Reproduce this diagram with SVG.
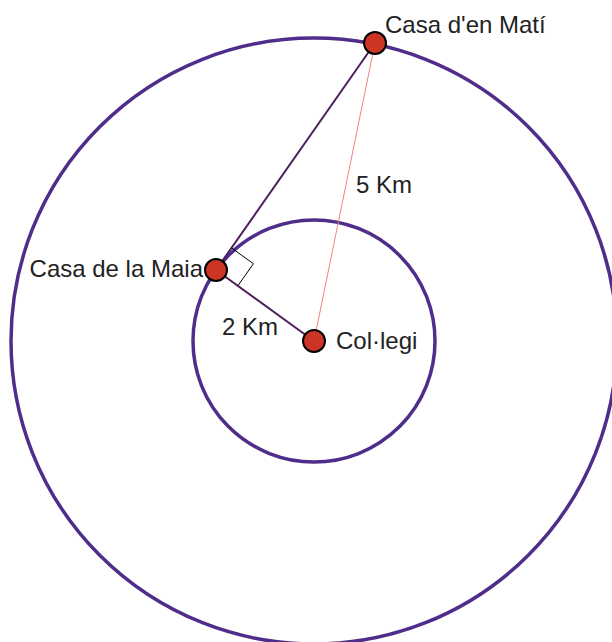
<svg xmlns="http://www.w3.org/2000/svg" width="612" height="642" viewBox="0 0 612 642">
<style>
.ring{fill:none;stroke:#4f2d8a;stroke-width:3.5}
.node{fill:#cc3526;stroke:#000;stroke-width:2}
.lbl{font-family:"Liberation Sans",Arial,sans-serif;font-size:24px;fill:#222}
.seg{stroke:#4d1f5c;stroke-width:2;fill:none}
</style>
<rect width="612" height="642" fill="#fff"/>
<g id="outer-circle"><circle class="ring" cx="314" cy="341" r="303"/></g>
<g id="inner-circle"><circle class="ring" cx="314" cy="341" r="121"/></g>
<g id="connectors">
<line class="seg" x1="375" y1="43" x2="216" y2="270"/>
<line class="seg" x1="216" y1="270" x2="314" y2="341"/>
<line x1="375" y1="43" x2="314" y2="341" stroke="#f08080" stroke-width="1"/>
<polyline points="231.5,247.9 253.4,263.7 237.9,285.8" fill="none" stroke="#000" stroke-width="1"/>
<text class="lbl" x="356" y="193">5 Km</text>
<text class="lbl" x="222" y="335">2 Km</text>
</g>
<g id="casa-mati"><circle class="node" cx="375" cy="43" r="11"/><text class="lbl" x="385" y="33">Casa d'en Matí</text></g>
<g id="casa-maia"><circle class="node" cx="216" cy="270" r="11"/><text class="lbl" x="203" y="277" text-anchor="end">Casa de la Maia</text></g>
<g id="collegi"><circle class="node" cx="314" cy="341" r="11"/><text class="lbl" x="336" y="349">Col·legi</text></g>
</svg>
